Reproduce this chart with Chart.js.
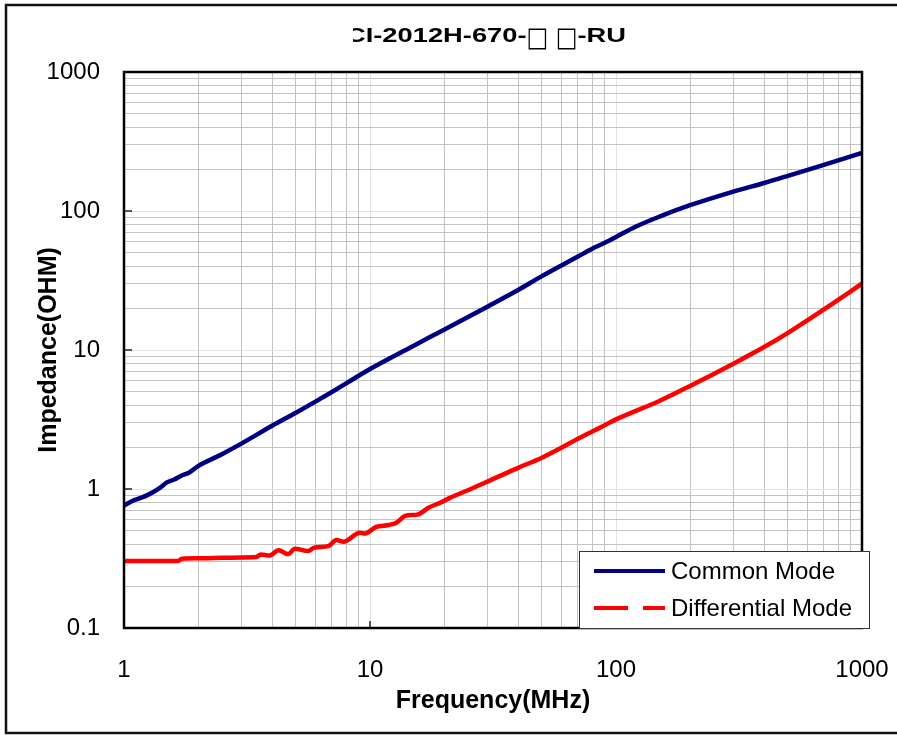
<!DOCTYPE html>
<html>
<head>
<meta charset="utf-8">
<title>Impedance vs Frequency</title>
<script src="https://cdn.jsdelivr.net/npm/chart.js@4.4.1/dist/chart.umd.min.js"></script>
<style>
  html, body { margin: 0; padding: 0; background: #fff; }
  canvas { display: block; }
</style>
</head>
<body>
<canvas id="chart" width="897" height="735"></canvas>
<script>
// values (frequency in MHz, impedance in ohm)
const freqCommon = [1, 1.08, 1.16, 1.24, 1.4, 1.5, 1.6, 1.7, 1.85, 2, 2.5, 3, 4, 5, 6, 7, 8, 10,
    15, 20, 30, 40, 50, 60, 70, 80, 90, 100, 120, 150, 200, 300, 400, 500, 700, 1000];
const zCommon = [0.76, 0.82, 0.86, 0.9, 1.02, 1.12, 1.17, 1.24, 1.32, 1.46, 1.78, 2.12, 2.85, 3.54, 4.25, 4.99, 5.75, 7.3,
    10.7, 14.0, 20.5, 27, 34, 40.5, 47, 53.5, 59, 65, 77, 91, 110, 138, 159, 179, 215, 262];

const freqDiff = [1, 1.2, 1.4, 1.65, 1.72, 2, 2.5, 3, 3.45, 3.6, 3.9, 4.25, 4.65, 4.95, 5.6, 5.9, 6.8, 7.3, 7.8,
    9.1, 9.5, 10.6, 11.9, 12.8, 13.9, 15.7, 17.3, 19.3, 21, 25, 30, 40, 50, 60, 70, 90, 100, 150, 200, 300, 400, 500, 700, 1000];
const zDiff = [0.303, 0.303, 0.303, 0.303, 0.315, 0.317, 0.32, 0.322, 0.324, 0.338, 0.332, 0.362, 0.34, 0.372, 0.358, 0.377, 0.39, 0.43, 0.418,
    0.485, 0.478, 0.533, 0.551, 0.572, 0.64, 0.657, 0.734, 0.797, 0.86, 0.98, 1.13, 1.42, 1.68, 1.98, 2.3, 2.88, 3.17, 4.3, 5.51, 7.97, 10.5, 13.3, 19.6, 30];

const seriesLabels = ['Common Mode', 'Differential Mode'];
const xDecades = [1, 10, 100, 1000];
const xDecadeLabels = ['1', '10', '100', '1000'];
const yDecades = [0.1, 1, 10, 100, 1000];
const yDecadeLabels = ['0.1', '1', '10', '100', '1000'];
const minorSteps = [2, 3, 4, 5, 6, 7, 8, 9];

// title pieces: the part number, two placeholder boxes, suffix
const titleParts = ['CI-2012H-670-', '\u25A1', ' ', '\u25A1', '-RU'];
const legendDashes = [[], [34, 15]];
const FONT = "'Liberation Sans', Arial, sans-serif";

function gridValues(decades) {
    let vals = [];
    for (let i = 0; i < decades.length - 1; i++) {
        vals.push(decades[i]);
        minorSteps.forEach(m => vals.push(decades[i] * m));
    }
    vals.push(decades[decades.length - 1]);
    return vals;
}

function isDecade(v) {
    let l = Math.log10(v);
    return Math.abs(l - Math.round(l)) < 1e-6;
}

function decadeLabel(v, decades, labels) {
    for (let i = 0; i < decades.length; i++) {
        if (Math.abs(Math.log10(v) - Math.log10(decades[i])) < 1e-6) return labels[i];
    }
    return '';
}

function toPoints(xs, ys) {
    return xs.map((x, i) => ({x: x, y: ys[i]}));
}

const gridColor = (c) => (c.tick && isDecade(c.tick.value)) ? '#e2e2e2' : '#c3c3c3';

function drawTitle(ctx) {
    const isBox = (t) => t === '\u25A1';
    const fonts = titleParts.map(t => isBox(t) ? '27px "DejaVu Sans"' : 'bold 21px ' + FONT);
    const scales = titleParts.map(t => isBox(t) ? 0.85 : 1.3);
    let widths = titleParts.map((t, i) => {
        ctx.font = fonts[i];
        return ctx.measureText(t).width * scales[i];
    });
    let total = widths.reduce((a, b) => a + b, 0);
    let x = 626 - total;
    ctx.save();
    ctx.beginPath();
    ctx.rect(353, 0, 600, 70);
    ctx.clip();
    ctx.fillStyle = '#000';
    ctx.textAlign = 'left';
    ctx.textBaseline = 'alphabetic';
    titleParts.forEach((t, i) => {
        ctx.save();
        ctx.translate(x, isBox(t) ? 46 : 42);
        ctx.scale(scales[i], 1);
        ctx.font = fonts[i];
        ctx.fillText(t, 0, 0);
        ctx.restore();
        x += widths[i];
    });
    ctx.restore();
}

const framePlugin = {
    id: 'frame',
    beforeDraw(chart) {
        const ctx = chart.ctx;
        ctx.save();
        ctx.fillStyle = '#fff';
        ctx.fillRect(0, 0, chart.width, chart.height);
        ctx.strokeStyle = '#111';
        ctx.lineWidth = 2.5;
        ctx.strokeRect(6, 5, 895, 728);
        ctx.restore();
    },
    beforeDatasetsDraw(chart) {
        // short inward tick marks at the decades
        const ctx = chart.ctx;
        const a = chart.chartArea;
        const xs = chart.scales.x, ys = chart.scales.y;
        ctx.save();
        ctx.strokeStyle = '#555';
        ctx.lineWidth = 2;
        ctx.beginPath();
        yDecades.forEach(v => {
            let y = Math.round(ys.getPixelForValue(v));
            ctx.moveTo(a.left, y);
            ctx.lineTo(a.left + 8, y);
        });
        xDecades.forEach(v => {
            let x = Math.round(xs.getPixelForValue(v));
            ctx.moveTo(x, a.bottom);
            ctx.lineTo(x, a.bottom - 7);
        });
        ctx.stroke();
        ctx.restore();
    },
    afterDatasetsDraw(chart) {
        const ctx = chart.ctx;
        const a = chart.chartArea;
        ctx.save();
        ctx.strokeStyle = '#000';
        ctx.lineWidth = 2.5;
        ctx.strokeRect(a.left, a.top, a.right - a.left, a.bottom - a.top);
        ctx.restore();
    },
    afterDraw(chart) {
        const ctx = chart.ctx;
        const a = chart.chartArea;

        drawTitle(ctx);

        // legend box in the lower right corner
        const bx = a.right - 283, by = a.bottom - 77, bw = 290, bh = 77;
        ctx.save();
        ctx.fillStyle = '#fff';
        ctx.fillRect(bx, by, bw, bh);
        ctx.strokeStyle = '#333';
        ctx.lineWidth = 1;
        ctx.strokeRect(bx + 0.5, by + 0.5, bw, bh);
        ctx.font = '24px ' + FONT;
        ctx.textBaseline = 'middle';
        ctx.textAlign = 'left';
        chart.data.datasets.forEach((ds, i) => {
            let y = by + 20 + i * 37;
            ctx.strokeStyle = ds.borderColor;
            ctx.lineWidth = 4;
            ctx.lineCap = 'butt';
            ctx.setLineDash(legendDashes[i]);
            ctx.beginPath();
            ctx.moveTo(bx + 15, y);
            ctx.lineTo(bx + 86, y);
            ctx.stroke();
            ctx.setLineDash([]);
            ctx.fillStyle = '#000';
            ctx.fillText(ds.label, bx + 92, y + 1);
        });
        ctx.restore();
    }
};

Chart.defaults.font.family = FONT;
Chart.defaults.color = '#000';

const chart = new Chart(document.getElementById('chart').getContext('2d'), {
    type: 'line',
    data: {
        datasets: [{
            label: seriesLabels[0],
            data: toPoints(freqCommon, zCommon),
            borderColor: '#000080',
            borderWidth: 4.5,
            pointRadius: 0,
            cubicInterpolationMode: 'monotone',
            borderJoinStyle: 'round',
            borderCapStyle: 'round',
            fill: false
        }, {
            label: seriesLabels[1],
            data: toPoints(freqDiff, zDiff),
            borderColor: '#ff0000',
            borderWidth: 4.5,
            pointRadius: 0,
            cubicInterpolationMode: 'monotone',
            borderJoinStyle: 'round',
            borderCapStyle: 'round',
            fill: false
        }]
    },
    options: {
        responsive: false,
        animation: false,
        devicePixelRatio: 1,
        layout: {
            padding: {top: 72, right: 35, left: 0, bottom: 0}
        },
        scales: {
            x: {
                type: 'logarithmic',
                min: 1,
                max: 1000,
                afterBuildTicks: (scale) => {
                    scale.ticks = gridValues(xDecades).map(v => ({value: v}));
                },
                afterFit: (scale) => {
                    scale.height = 107;
                    scale.paddingLeft = 0;
                    scale.paddingRight = 0;
                },
                grid: {
                    color: gridColor,
                    lineWidth: 1,
                    drawTicks: false
                },
                border: { display: false },
                ticks: {
                    autoSkip: false,
                    maxRotation: 0,
                    padding: 28,
                    font: {size: 24},
                    callback: (v) => decadeLabel(v, xDecades, xDecadeLabels)
                },
                title: {
                    display: true,
                    text: 'Frequency(MHz)',
                    font: {size: 25, weight: 'bold'},
                    padding: {top: 0, bottom: 19}
                }
            },
            y: {
                type: 'logarithmic',
                min: 0.1,
                max: 1000,
                afterBuildTicks: (scale) => {
                    scale.ticks = gridValues(yDecades).map(v => ({value: v}));
                },
                afterFit: (scale) => {
                    scale.width = 124;
                    scale.paddingTop = 0;
                    scale.paddingBottom = 0;
                },
                grid: {
                    color: gridColor,
                    lineWidth: 1,
                    drawTicks: false
                },
                border: { display: false },
                ticks: {
                    autoSkip: false,
                    padding: 24,
                    font: {size: 24},
                    callback: (v) => decadeLabel(v, yDecades, yDecadeLabels)
                },
                title: {
                    display: true,
                    text: 'Impedance(OHM)',
                    font: {size: 25, weight: 'bold'},
                    padding: {top: 34, bottom: 0}
                }
            }
        },
        plugins: {
            legend: { display: false },
            title: { display: false },
            tooltip: { enabled: false }
        }
    },
    plugins: [framePlugin]
});
</script>
</body>
</html>
